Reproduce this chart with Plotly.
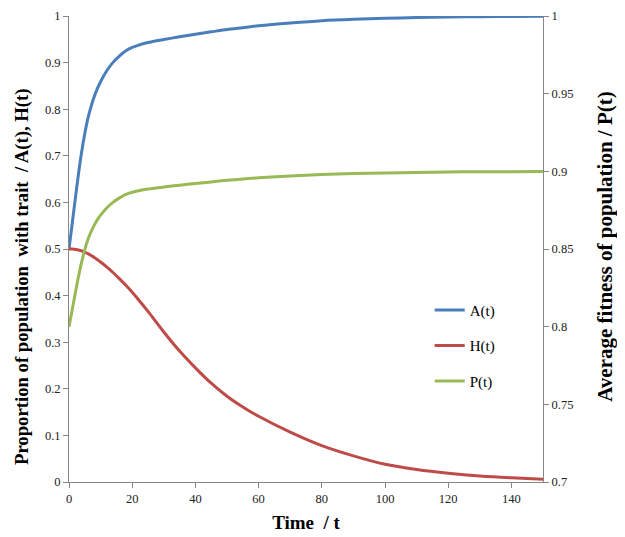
import plotly.graph_objects as go

t = [0, 1, 2, 3, 4, 5, 6, 7, 8, 9, 10, 12, 14, 16, 18, 20, 22, 25, 30, 35, 40, 45, 50,
     55, 60, 70, 80, 90, 100, 110, 120, 130, 140, 150]
A = [0.5, 0.554, 0.608, 0.661, 0.708, 0.748, 0.781, 0.806, 0.827, 0.8445, 0.859, 0.883,
     0.901, 0.9146, 0.9256, 0.9326, 0.9376, 0.943, 0.9495, 0.9555, 0.961, 0.966, 0.971,
     0.975, 0.979, 0.985, 0.990, 0.993, 0.995, 0.9967, 0.9978, 0.9985, 0.999, 0.9993]
H = [0.5, 0.5, 0.499, 0.498, 0.496, 0.493, 0.49, 0.486, 0.482, 0.477, 0.472, 0.461,
     0.449, 0.436, 0.422, 0.407, 0.391, 0.366, 0.322, 0.281, 0.245, 0.212, 0.184,
     0.161, 0.141, 0.107, 0.078, 0.056, 0.038, 0.027, 0.019, 0.013, 0.009, 0.006]
P = [0.8, 0.8108, 0.8216, 0.8322, 0.8416, 0.8496, 0.8562, 0.8612, 0.8654, 0.8689, 0.8718,
     0.8766, 0.8802, 0.8829, 0.8851, 0.8865, 0.8875, 0.8886, 0.8899, 0.8911, 0.8922,
     0.8932, 0.8942, 0.895, 0.8958, 0.897, 0.898, 0.8986, 0.899, 0.8993, 0.8996, 0.8997,
     0.8998, 0.8999]

names = ["A(t)", "H(t)", "P(t)"]
colors = ["#4A7EBB", "#BE4B48", "#98B954"]
x_title = "Time  / t"
y_title = "Proportion of population  with trait  / A(t), H(t)"
y2_title = "Average fitness of population / P(t)"

FONT = "Liberation Serif, Times New Roman, Tinos, DejaVu Serif, serif"
AXIS_COLOR = "#868686"

fig = go.Figure()
fig.add_trace(go.Scatter(x=t, y=A, name=names[0], mode="lines", legendgroup="a",
                         line=dict(color=colors[0], width=3, shape="spline", smoothing=0.8)))
fig.add_trace(go.Scatter(x=t, y=H, name=names[1], mode="lines", legendgroup="h",
                         line=dict(color=colors[1], width=3, shape="spline", smoothing=0.8)))
fig.add_trace(go.Scatter(x=t, y=P, name=names[2], mode="lines", legendgroup="p", yaxis="y2",
                         line=dict(color=colors[2], width=3, shape="spline", smoothing=0.8)))

axis_common = dict(showgrid=False, zeroline=False, showline=True, linecolor=AXIS_COLOR,
                   linewidth=1, ticks="outside", ticklen=5, tickcolor=AXIS_COLOR,
                   tickfont=dict(family=FONT, size=12.5, color="#222"))

fig.update_layout(
    width=617, height=529,
    margin=dict(l=61, r=82, t=8, b=55, autoexpand=False),
    paper_bgcolor="white", plot_bgcolor="white",
    font=dict(family=FONT, color="black"),
    xaxis=dict(range=[0, 150], dtick=20, tick0=0,
               title=dict(text="<b>" + x_title + "</b>", font=dict(family=FONT, size=19),
                          standoff=10),
               **axis_common),
    yaxis=dict(range=[0, 1], dtick=0.1, tick0=0, **axis_common),
    yaxis2=dict(range=[0.7, 1], dtick=0.05, tick0=0.7, overlaying="y", side="right",
                **axis_common),
    showlegend=True,
    legend=dict(x=0.761, y=0.404, xanchor="left", yanchor="top",
                font=dict(family=FONT, size=15, color="black"),
                bgcolor="rgba(0,0,0,0)", tracegroupgap=13, itemwidth=30),
    annotations=[
        dict(text="<b>" + y_title + "</b>", textangle=-90, xref="paper", yref="paper",
             x=-0.099, y=0.44, xanchor="center", yanchor="middle", showarrow=False,
             font=dict(family=FONT, size=18.7, color="black")),
        dict(text="<b>" + y2_title + "</b>", textangle=-90, xref="paper", yref="paper",
             x=1.131, y=0.505, xanchor="center", yanchor="middle", showarrow=False,
             font=dict(family=FONT, size=21, color="black")),
    ],
)

fig.write_html("out.html")
